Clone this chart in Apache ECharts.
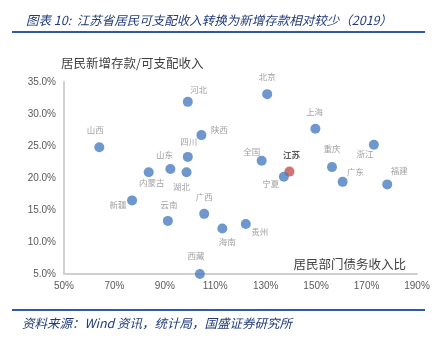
<!DOCTYPE html>
<html>
<head>
<meta charset="utf-8">
<script src="https://cdn.jsdelivr.net/npm/echarts@6/dist/echarts.min.js"></script>
<style>
  html, body { margin: 0; padding: 0; background: #ffffff; }
  #chart { width: 442px; height: 344px; }
</style>
</head>
<body>
<div id="chart"></div>
<script>
// Provinces, household debt-to-income ratio (%) and new deposits / disposable income (%), 2019
const provinces   = ['河北', '山西', '陕西', '四川', '山东', '内蒙古', '湖北', '新疆', '云南', '广西', '西藏',
                     '海南', '贵州', '北京', '上海', '浙江', '全国', '江苏', '重庆', '宁夏', '广东', '福建'];
const debtRatio   = [99.1, 64.0, 104.5, 99.1, 92.2, 83.6, 98.6, 77.0, 91.2, 105.6, 103.9,
                     112.8, 122.1, 130.6, 149.7, 172.9, 128.4, 139.4, 156.3, 137.2, 160.5, 178.2];
const depositRatio = [31.9, 24.8, 26.7, 23.3, 21.4, 20.9, 20.9, 16.5, 13.3, 14.4, 5.0,
                      12.1, 12.8, 33.1, 27.7, 25.2, 22.7, 21.0, 21.7, 20.2, 19.4, 19.0];
const highlight = '江苏';

const xTicks = { min: 50, max: 190, step: 20 };
const yTicks = { min: 5, max: 35, step: 5 };

// label placement around each marker (pixel offsets from the marker centre)
const labelOffset = {
  '河北': [11, -12], '山西': [-4, -18], '陕西': [18, -5], '四川': [1, -15], '山东': [-6, -14],
  '内蒙古': [3, 11], '湖北': [-5, 15], '新疆': [-14, 4], '云南': [1, -16], '广西': [0, -17],
  '西藏': [-4, -18], '海南': [5, 13], '贵州': [14, 8], '北京': [0, -17], '上海': [-1, -17],
  '浙江': [-9, 9], '全国': [-10, -9], '江苏': [2, -17], '重庆': [0, -18], '宁夏': [-13, 7],
  '广东': [13, -10], '福建': [12, -14]
};

const BLUE = '#4a7dc2', RED = '#c8504a';
const CJK = '"Noto Sans CJK SC", sans-serif';

const points = provinces.map((name, i) => {
  const isHi = name === highlight;
  return {
    name,
    value: [debtRatio[i], depositRatio[i]],
    itemStyle: { color: isHi ? RED : BLUE },
    label: {
      offset: labelOffset[name],
      color: isHi ? '#333333' : '#8a8a8a',
      fontWeight: isHi ? 'bold' : 'normal'
    }
  };
});

const chart = echarts.init(document.getElementById('chart'), null, { renderer: 'canvas' });
chart.setOption({
  backgroundColor: '#ffffff',
  animation: false,
  title: {
    text: '图表 10:  江苏省居民可支配收入转换为新增存款相对较少（2019）',
    left: 21, top: 9,
    textStyle: { fontFamily: CJK, fontSize: 12.5, fontStyle: 'italic', fontWeight: 'normal', color: '#1f3a78' }
  },
  graphic: [
    { type: 'line', shape: { x1: 12, y1: 32, x2: 425, y2: 32 }, style: { stroke: '#2f5aa6', lineWidth: 2 } },
    { type: 'line', shape: { x1: 12, y1: 310, x2: 425, y2: 310 }, style: { stroke: '#2f5aa6', lineWidth: 2 } },
    { type: 'text', left: 22, top: 317,
      style: { text: '资料来源：Wind 资讯，统计局，国盛证券研究所', font: 'italic 12.5px ' + CJK, fill: '#1f3a78' } },
    { type: 'text', left: 61, top: 57,
      style: { text: '居民新增存款/可支配收入', font: '12.5px ' + CJK, fill: '#404040' } },
    { type: 'text', right: 36, top: 258,
      style: { text: '居民部门债务收入比', font: '12.5px ' + CJK, fill: '#404040' } }
  ],
  grid: { left: 64, right: 25, top: 82, bottom: 70, containLabel: false },
  xAxis: {
    type: 'value',
    min: xTicks.min, max: xTicks.max, interval: xTicks.step,
    axisLine: { show: true, lineStyle: { color: '#d0d0d0', width: 2 } },
    axisTick: { show: false },
    splitLine: { show: false },
    axisLabel: { formatter: '{value}%', color: '#595959', fontSize: 10, fontFamily: 'Arial, "Liberation Sans"', margin: 7 }
  },
  yAxis: {
    type: 'value',
    min: yTicks.min, max: yTicks.max, interval: yTicks.step,
    axisLine: { show: true, lineStyle: { color: '#d0d0d0', width: 2 } },
    axisTick: { show: false },
    splitLine: { show: false },
    axisLabel: { formatter: v => v.toFixed(1) + '%', color: '#595959', fontSize: 10, fontFamily: 'Arial, "Liberation Sans"', margin: 8 }
  },
  series: [{
    type: 'scatter',
    symbolSize: 10,
    data: points,
    label: {
      show: true,
      position: 'inside',
      formatter: p => p.name,
      fontFamily: CJK,
      fontSize: 8.5
    }
  }]
});
</script>
</body>
</html>
